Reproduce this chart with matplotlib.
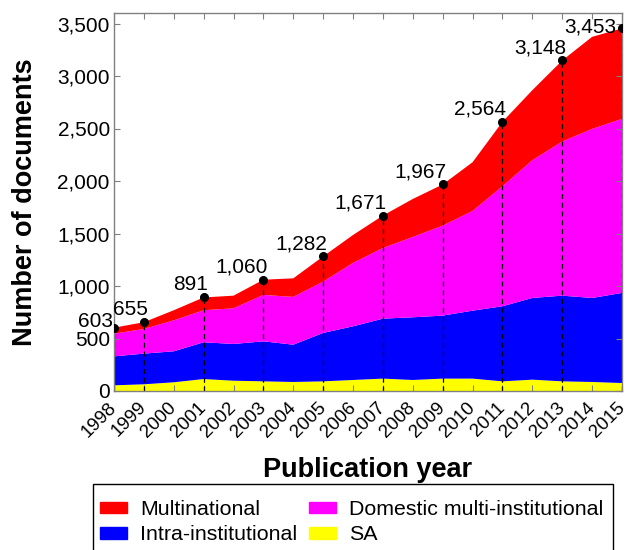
import matplotlib
matplotlib.use("Agg")
import matplotlib.pyplot as plt
from matplotlib.patches import Patch, Rectangle

years = list(range(1998, 2016))
sa = [54, 64, 83, 114, 98, 92, 86, 92, 105, 118, 105, 118, 118, 92, 108, 92, 86, 76]
intra = [276, 292, 295, 350, 350, 381, 355, 461, 511, 571, 597, 600, 647, 715, 778, 816, 800, 858]
domestic = [216, 235, 295, 305, 340, 442, 455, 489, 604, 673, 765, 857, 950, 1143, 1312, 1468, 1610, 1658]
multinational = [57, 64, 96, 122, 120, 145, 177, 240, 266, 309, 362, 392, 464, 614, 667, 772, 877, 861]

label_years = [1998, 1999, 2001, 2003, 2005, 2007, 2009, 2011, 2013, 2015]
label_totals = [603, 655, 891, 1060, 1282, 1671, 1967, 2564, 3148, 3453]

series_colors = ["#FFFF00", "#0000FF", "#FF00FF", "#FF0000"]

plt.rcParams["font.family"] = ["Liberation Sans", "DejaVu Sans"]

W, H = 628, 550
fig = plt.figure(figsize=(6.28, 5.5), dpi=100)
ax = fig.add_axes([114 / W, 1 - 391 / H, (622 - 114) / W, (391 - 13) / H])

ax.stackplot(years, sa, intra, domestic, multinational, colors=series_colors,
             linewidth=0)

for yr, tot in zip(label_years, label_totals):
    ax.plot([yr, yr], [0, tot], color="black", linestyle=(0, (4, 3)), linewidth=0.9)
ax.plot(label_years, label_totals, "o", color="black", markersize=5.5, zorder=5)

for yr, tot in zip(label_years, label_totals):
    if yr == 1998:
        off = (-1, 1)
    elif yr == 2015:
        off = (-6, -4)
    else:
        off = (4, 7)
    ax.annotate(f"{tot:,}", (yr, tot), xytext=off, textcoords="offset pixels",
                ha="right", va="baseline", fontsize=15, annotation_clip=False)

ax.set_xlim(1998, 2015)
ax.set_ylim(0, 3600)
ax.set_xticks(years)
ax.set_xticklabels([str(y) for y in years], rotation=45, ha="right", va="center",
                   rotation_mode="anchor", fontsize=13.5)
ax.set_yticks(range(0, 3501, 500))
ax.set_yticklabels([f"{v:,}" for v in range(0, 3501, 500)], fontsize=15)
ax.tick_params(direction="in", length=4, color="#808080", top=True, right=True,
               pad=3)
ax.tick_params(axis="x", pad=10)
for s in ax.spines.values():
    s.set_color("#808080")
    s.set_linewidth(1)

ax.set_xlabel("Publication year", fontsize=19.5, fontweight="bold", labelpad=12)
ax.set_ylabel("Number of documents", fontsize=19.5, fontweight="bold", labelpad=14)

handles = [Patch(color=series_colors[3]), Patch(color=series_colors[1]),
           Patch(color=series_colors[2]), Patch(color=series_colors[0])]
labels = ["Multinational", "Intra-institutional", "Domestic multi-institutional", "SA"]
leg = fig.legend(handles, labels, loc="upper left", bbox_to_anchor=(100 / W, 1 - 500 / H),
                 ncol=2, fontsize=15.4, frameon=False,
                 handlelength=1.27, handleheight=0.45, handletextpad=0.6,
                 columnspacing=0.55, borderpad=0, labelspacing=0.3,
                 borderaxespad=0)
fig.patches.append(Rectangle((93 / W, -0.05), (613 - 93) / W, 0.05 + 1 - 484 / H,
                             transform=fig.transFigure, fill=False, edgecolor="black",
                             linewidth=1))

fig.savefig("out.png", dpi=100)
